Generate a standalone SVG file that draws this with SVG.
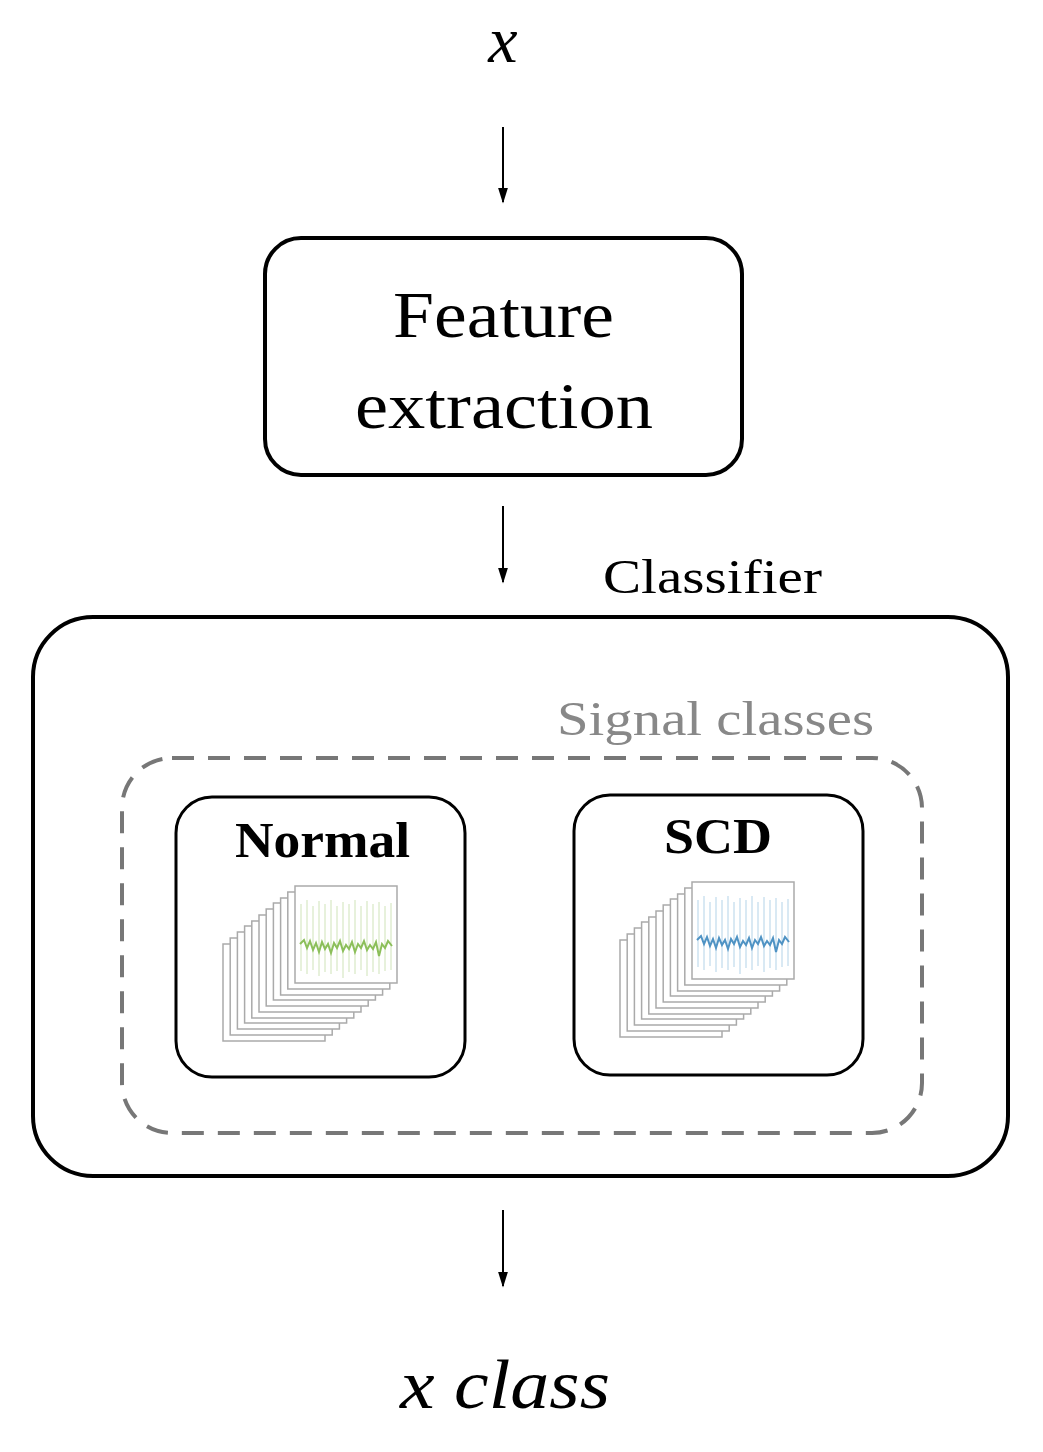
<svg xmlns="http://www.w3.org/2000/svg" width="1043" height="1452" viewBox="0 0 1043 1452">
<style>
.t{font-family:"Liberation Serif",serif;fill:#000}
.box{fill:#fff;stroke:#000}
.fr{fill:#fff;stroke:#aaa;stroke-width:1.5}
.arr{stroke:#000;stroke-width:2;fill:none}
</style>
<defs>
<marker id="ah" viewBox="0 0 10 10" refX="9" refY="5" markerWidth="16" markerHeight="10" markerUnits="userSpaceOnUse" orient="auto" preserveAspectRatio="none"><path d="M0,0 L10,5 L0,10 z" fill="#000"/></marker>
<g id="stack">
<rect class="fr" x="0" y="58" width="102" height="97"/>
<rect class="fr" x="7.2" y="52" width="102" height="97"/>
<rect class="fr" x="14.4" y="46" width="102" height="97"/>
<rect class="fr" x="21.6" y="40" width="102" height="97"/>
<rect class="fr" x="28.8" y="35" width="102" height="97"/>
<rect class="fr" x="36" y="29" width="102" height="97"/>
<rect class="fr" x="43.2" y="23" width="102" height="97"/>
<rect class="fr" x="50.4" y="17" width="102" height="97"/>
<rect class="fr" x="57.6" y="12" width="102" height="97"/>
<rect class="fr" x="64.8" y="6" width="102" height="97"/>
<rect class="fr" x="72" y="0" width="102" height="97"/>
</g>
<path id="spk" d="M78,18V85M84,14V88M90,20V84M96,15V90M102,18V86M108,14V88M114,20V85M120,16V92M126,18V86M132,14V88M138,20V84M144,15V90M150,18V86M156,16V88M162,20V85M168,17V84" stroke-width="1"/>
<path id="nz" d="M77,58 L81,54 L84,62 L87,55 L90,64 L93,57 L96,66 L99,56 L102,63 L105,58 L108,67 L111,57 L114,62 L117,55 L120,65 L123,59 L126,63 L129,56 L132,66 L135,58 L138,62 L141,55 L144,64 L147,59 L150,63 L153,56 L156,70 L159,58 L162,62 L165,55 L169,60" fill="none" stroke-width="2"/>
</defs>
<g id="x-in"><text class="t" x="503" y="62" font-size="66" font-style="italic" text-anchor="middle">x</text></g>
<g id="connectors">
<line class="arr" x1="503" y1="127" x2="503" y2="202" marker-end="url(#ah)"/>
<line class="arr" x1="503" y1="506" x2="503" y2="582" marker-end="url(#ah)"/>
<line class="arr" x1="503" y1="1210" x2="503" y2="1286" marker-end="url(#ah)"/>
</g>
<g id="feature">
<rect class="box" x="265" y="238" width="477" height="237" rx="36" stroke-width="4"/>
<text class="t" x="393" y="337" font-size="66" textLength="221" lengthAdjust="spacingAndGlyphs">Feature</text>
<text class="t" x="355" y="428" font-size="66" textLength="298" lengthAdjust="spacingAndGlyphs">extraction</text>
</g>
<g id="classifier">
<text class="t" x="603" y="593" font-size="48" textLength="219" lengthAdjust="spacingAndGlyphs">Classifier</text>
<rect class="box" x="33" y="617" width="975" height="559" rx="60" stroke-width="4"/>
<text class="t" x="557" y="735" font-size="48" textLength="317" lengthAdjust="spacingAndGlyphs" style="fill:#888">Signal classes</text>
<rect x="122" y="758" width="800" height="375" rx="50" fill="none" stroke="#777" stroke-width="4" stroke-dasharray="22,14"/>
</g>
<g id="normal">
<rect class="box" x="176" y="797" width="289" height="280" rx="36" stroke-width="3"/>
<text class="t" x="235" y="857" font-size="50" font-weight="bold" textLength="175" lengthAdjust="spacingAndGlyphs">Normal</text>
<g transform="translate(223,886)">
<use href="#stack"/>
<use href="#spk" stroke="#cfe3b8"/>
<use href="#nz" stroke="#8cbf5a"/>
</g>
</g>
<g id="scd">
<rect class="box" x="574" y="795" width="289" height="280" rx="36" stroke-width="3"/>
<text class="t" x="664" y="853" font-size="50" font-weight="bold" textLength="108" lengthAdjust="spacingAndGlyphs">SCD</text>
<g transform="translate(620,882)">
<use href="#stack"/>
<use href="#spk" stroke="#b3d3e8"/>
<use href="#nz" stroke="#4f93c4"/>
</g>
</g>
<g id="x-out"><text class="t" x="400" y="1408" font-size="70" font-style="italic" textLength="210" lengthAdjust="spacingAndGlyphs">x class</text></g>
</svg>
